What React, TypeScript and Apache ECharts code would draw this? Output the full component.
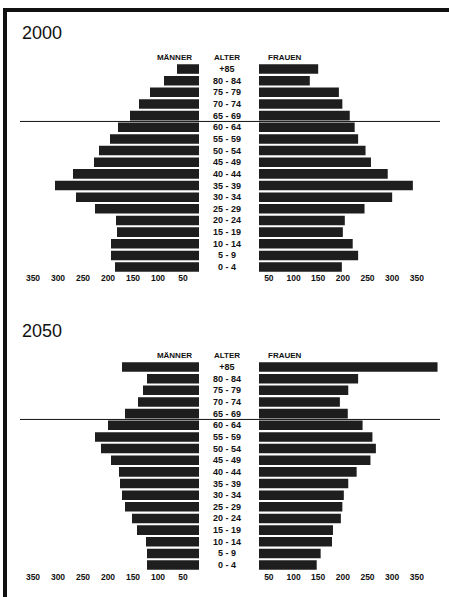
import React, { useEffect, useRef } from "react";
import * as echarts from "echarts";

// Age groups, bottom (youngest) to top (oldest)
const ageGroups = [
  "0 - 4", "5 - 9", "10 - 14", "15 - 19", "20 - 24", "25 - 29", "30 - 34", "35 - 39",
  "40 - 44", "45 - 49", "50 - 54", "55 - 59", "60 - 64", "65 - 69", "70 - 74", "75 - 79",
  "80 - 84", "+85",
];

// Year 2000 (bottom to top)
const men2000 = [186, 194, 194, 182, 184, 226, 264, 306, 270, 228, 218, 196, 180, 156, 138, 116, 88, 62];
const women2000 = [198, 231, 220, 200, 204, 244, 300, 342, 291, 257, 246, 231, 224, 214, 199, 192, 133, 150];

// Year 2050 (bottom to top)
const men2050 = [122, 122, 124, 142, 152, 166, 172, 176, 178, 194, 214, 226, 200, 166, 140, 130, 122, 172];
const women2050 = [147, 155, 178, 180, 196, 199, 202, 211, 228, 256, 267, 260, 240, 210, 194, 211, 231, 392];

const axisTicks = [50, 100, 150, 200, 250, 300, 350];
const years = ["2000", "2050"];
const headers = ["MÄNNER", "ALTER", "FRAUEN"];

export default function App() {
  const ref = useRef<HTMLDivElement>(null);

  useEffect(() => {
    if (!ref.current) return;
    const chart = echarts.init(ref.current, null, { renderer: "svg" });

    const pitch = 11.65;
    const gridH = pitch * 18;
    const tops = [63.2, 361.2];
    const leftRight = 199; // right edge of men's bars
    const rightLeft = 259; // left edge of women's bars
    const font = "'Liberation Sans', Arial, sans-serif";
    const barColor = "#1e1e1e";

    const grids: any[] = [];
    const xAxes: any[] = [];
    const yAxes: any[] = [];
    const series: any[] = [];
    const graphics: any[] = [];

    const axisLabelBase = {
      customValues: axisTicks,
      fontSize: 8.5,
      fontWeight: "bold",
      fontFamily: font,
      color: "#111",
    };

    tops.forEach((top, k) => {
      const men = k === 0 ? men2000 : men2050;
      const women = k === 0 ? women2000 : women2050;
      const gl = k * 2;
      const gr = k * 2 + 1;
      grids.push({ left: 20, width: leftRight - 20, top, height: gridH });
      grids.push({ left: rightLeft, width: 440 - rightLeft, top, height: gridH });

      xAxes.push({
        type: "value",
        gridIndex: gl,
        inverse: true,
        min: 18,
        max: 376,
        axisLine: { show: false },
        axisTick: { show: false },
        splitLine: { show: false },
        axisLabel: { ...axisLabelBase, margin: k === 0 ? 1 : 2 },
      });
      xAxes.push({
        type: "value",
        gridIndex: gr,
        min: 30,
        max: 397,
        axisLine: { show: false },
        axisTick: { show: false },
        splitLine: { show: false },
        axisLabel: { ...axisLabelBase, margin: k === 0 ? 1 : 2 },
      });

      yAxes.push({
        type: "category",
        gridIndex: gl,
        data: ageGroups,
        show: false,
      });
      yAxes.push({
        type: "category",
        gridIndex: gr,
        data: ageGroups,
        position: "left",
        axisLine: { show: false },
        axisTick: { show: false },
        axisLabel: {
          interval: 0,
          align: "center",
          margin: rightLeft - 227,
          fontSize: 9,
          fontWeight: "bold",
          fontFamily: font,
          color: "#111",
        },
      });

      series.push({
        type: "bar",
        xAxisIndex: gl,
        yAxisIndex: gl,
        data: men,
        clip: true,
        barCategoryGap: "18%",
        itemStyle: { color: barColor },
      });
      series.push({
        type: "bar",
        xAxisIndex: gr,
        yAxisIndex: gr,
        data: women,
        clip: true,
        barCategoryGap: "18%",
        itemStyle: { color: barColor },
      });

      const yOff = k * 298;
      graphics.push({
        type: "text",
        left: 22,
        top: 24 + yOff,
        style: { text: years[k], font: `18px ${font}`, fill: "#111" },
      });
      graphics.push({
        type: "text",
        x: 192,
        y: 57 + yOff,
        style: { text: headers[0], font: `bold 8px ${font}`, fill: "#111", align: "right", verticalAlign: "middle" },
      });
      graphics.push({
        type: "text",
        x: 227,
        y: 57 + yOff,
        style: { text: headers[1], font: `bold 8px ${font}`, fill: "#111", align: "center", verticalAlign: "middle" },
      });
      graphics.push({
        type: "text",
        x: 268,
        y: 57 + yOff,
        style: { text: headers[2], font: `bold 8px ${font}`, fill: "#111", align: "left", verticalAlign: "middle" },
      });
      const lineY = top + pitch * 5;
      graphics.push({
        type: "line",
        shape: { x1: 20, y1: lineY, x2: 440, y2: lineY },
        style: { stroke: "#111", lineWidth: 1 },
        z: 100,
      });
    });

    // frame
    graphics.push({ type: "rect", shape: { x: 3, y: 8, width: 4, height: 600 }, style: { fill: "#111" } });
    graphics.push({ type: "rect", shape: { x: 3, y: 8, width: 446, height: 4 }, style: { fill: "#111" } });

    chart.setOption({
      animation: false,
      backgroundColor: "#fff",
      grid: grids,
      xAxis: xAxes,
      yAxis: yAxes,
      series,
      graphic: graphics,
    });

    return () => chart.dispose();
  }, []);

  return (
    <div
      ref={ref}
      style={{ position: "fixed", left: 0, top: 0, width: 449, height: 597, background: "#fff" }}
    />
  );
}
